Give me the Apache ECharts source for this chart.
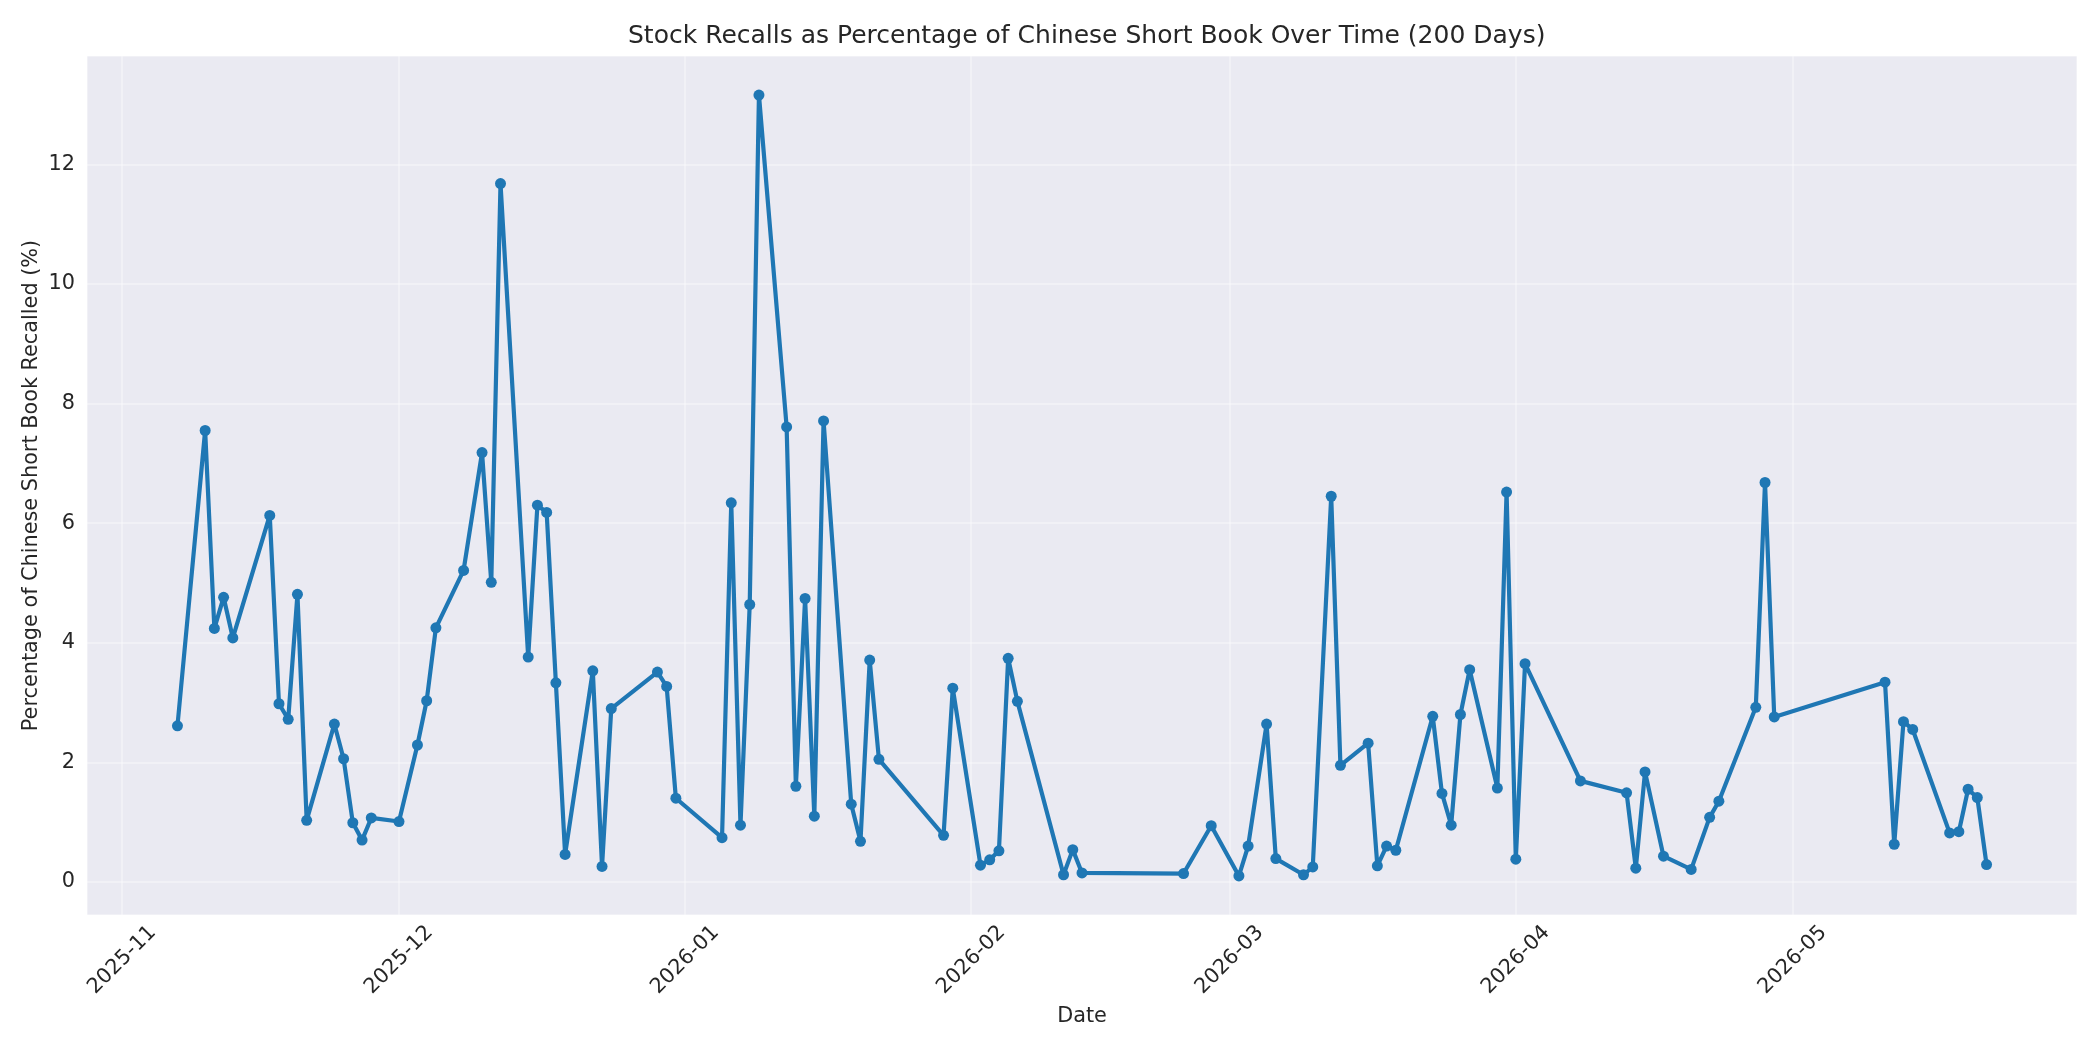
<!DOCTYPE html>
<html>
<head>
<meta charset="utf-8">
<script src="https://cdn.jsdelivr.net/npm/echarts@6/dist/echarts.min.js"></script>
<style>
html,body{margin:0;padding:0;background:#ffffff;}
#chart{width:2100px;height:1050px;}
</style>
</head>
<body>
<div id="chart"></div>
<script>
// ---- data ----
const chartTitle = 'Stock Recalls as Percentage of Chinese Short Book Over Time (200 Days)';
const xAxisTitle = 'Date';
const yAxisTitle = 'Percentage of Chinese Short Book Recalled (%)';

const dates = [
  '2025-11-07','2025-11-10','2025-11-11','2025-11-12','2025-11-13','2025-11-17','2025-11-18','2025-11-19','2025-11-20','2025-11-21',
  '2025-11-24','2025-11-25','2025-11-26','2025-11-27','2025-11-28','2025-12-01','2025-12-03','2025-12-04','2025-12-05','2025-12-08',
  '2025-12-10','2025-12-11','2025-12-12','2025-12-15','2025-12-16','2025-12-17','2025-12-18','2025-12-19','2025-12-22','2025-12-23',
  '2025-12-24','2025-12-29','2025-12-30','2025-12-31','2026-01-05','2026-01-06','2026-01-07','2026-01-08','2026-01-09','2026-01-12',
  '2026-01-13','2026-01-14','2026-01-15','2026-01-16','2026-01-19','2026-01-20','2026-01-21','2026-01-22','2026-01-29','2026-01-30',
  '2026-02-02','2026-02-03','2026-02-04','2026-02-05','2026-02-06','2026-02-11','2026-02-12','2026-02-13','2026-02-24','2026-02-27',
  '2026-03-02','2026-03-03','2026-03-05','2026-03-06','2026-03-09','2026-03-10','2026-03-12','2026-03-13','2026-03-16','2026-03-17',
  '2026-03-18','2026-03-19','2026-03-23','2026-03-24','2026-03-25','2026-03-26','2026-03-27','2026-03-30','2026-03-31','2026-04-01',
  '2026-04-02','2026-04-08','2026-04-13','2026-04-14','2026-04-15','2026-04-17','2026-04-20','2026-04-22','2026-04-23','2026-04-27',
  '2026-04-28','2026-04-29','2026-05-11','2026-05-12','2026-05-13','2026-05-14','2026-05-18','2026-05-19','2026-05-20','2026-05-21',
  '2026-05-22'
];

const recallPct = [
  2.61, 7.55, 4.24, 4.76, 4.08, 6.13, 2.98, 2.72, 4.81, 1.03,
  2.64, 2.06, 0.99, 0.70, 1.07, 1.01, 2.29, 3.03, 4.25, 5.21,
  7.18, 5.01, 11.68, 3.76, 6.30, 6.18, 3.33, 0.46, 3.53, 0.26,
  2.90, 3.51, 3.27, 1.40, 0.74, 6.34, 0.95, 4.64, 13.16, 7.61,
  1.60, 4.74, 1.10, 7.71, 1.30, 0.68, 3.71, 2.05, 0.78, 3.24,
  0.28, 0.37, 0.52, 3.74, 3.02, 0.12, 0.54, 0.15, 0.14, 0.94,
  0.10, 0.60, 2.64, 0.39, 0.12, 0.25, 6.45, 1.95, 2.32, 0.27,
  0.60, 0.53, 2.77, 1.48, 0.95, 2.80, 3.55, 1.57, 6.52, 0.38,
  3.65, 1.69, 1.49, 0.23, 1.84, 0.43, 0.21, 1.08, 1.35, 2.92,
  6.68, 2.76, 3.34, 0.63, 2.68, 2.55, 0.82, 0.84, 1.55, 1.41,
  0.29
];

const yTickStep = 2;

// ---- build ----
function parseDate(s) {
  const p = s.split('-').map(Number);
  return new Date(p[0], p[1] - 1, p[2]).getTime();
}
const times = dates.map(parseDate);
const seriesData = times.map((t, i) => [t, recallPct[i]]);

// matplotlib-like 5% margins
const tMin = Math.min(...times), tMax = Math.max(...times);
const tPad = (tMax - tMin) * 0.05;
const vMin = Math.min(...recallPct), vMax = Math.max(...recallPct);
const vPad = (vMax - vMin) * 0.05;

const FONT = 'DejaVu Sans';
const TXT = '#262626';
const DAY = 86400000;
const GRID = 'rgba(255,255,255,0.32)';

const chart = echarts.init(document.getElementById('chart'), null, {renderer: 'canvas', width: 2100, height: 1050});
chart.setOption({
  animation: false,
  backgroundColor: '#ffffff',
  title: {
    text: chartTitle,
    left: 623,
    top: 19,
    textStyle: {fontFamily: FONT, fontSize: 25, fontWeight: 'normal', color: TXT}
  },
  grid: {
    left: 87, right: 23, top: 56, bottom: 135,
    show: true, backgroundColor: '#EAEAF2', borderWidth: 0
  },
  xAxis: {
    type: 'time',
    min: tMin - tPad,
    max: tMax + tPad,
    splitNumber: 7,
    minInterval: 28 * DAY,
    maxInterval: 31 * DAY,
    name: xAxisTitle,
    nameLocation: 'middle',
    nameGap: 91,
    nameMoveOverlap: false,
    nameTextStyle: {fontFamily: FONT, fontSize: 20.8, color: TXT},
    axisLine: {show: false},
    axisTick: {show: false},
    splitLine: {show: true, lineStyle: {color: GRID, width: 2}},
    axisLabel: {
      rotate: 45,
      align: 'center',
      verticalAlign: 'middle',
      margin: 45,
      fontFamily: FONT, fontSize: 20.8, color: TXT,
      showMinLabel: false, showMaxLabel: false,
      formatter: function (val) {
        const d = new Date(val);
        const m = d.getMonth() + 1;
        return d.getFullYear() + '-' + (m < 10 ? '0' + m : m);
      }
    }
  },
  yAxis: {
    type: 'value',
    min: vMin - vPad,
    max: vMax + vPad,
    splitNumber: 7,
    name: yAxisTitle,
    nameLocation: 'middle',
    nameGap: 45,
    nameMoveOverlap: false,
    nameRotate: 90,
    nameTextStyle: {fontFamily: FONT, fontSize: 20.8, color: TXT},
    axisLine: {show: false},
    axisTick: {show: false},
    splitLine: {show: true, lineStyle: {color: GRID, width: 2}},
    axisLabel: {
      margin: 12,
      fontFamily: FONT, fontSize: 20.8, color: TXT,
      showMinLabel: false, showMaxLabel: false,
      formatter: function (v) {
        return (Math.abs(v / yTickStep - Math.round(v / yTickStep)) < 1e-6) ? String(Math.round(v)) : '';
      }
    }
  },
  series: [{
    type: 'line',
    data: seriesData,
    symbol: 'circle',
    symbolSize: 11,
    showAllSymbol: true,
    lineStyle: {color: '#1f77b4', width: 4.2},
    itemStyle: {color: '#1f77b4', borderWidth: 0}
  }]
});
</script>
</body>
</html>
